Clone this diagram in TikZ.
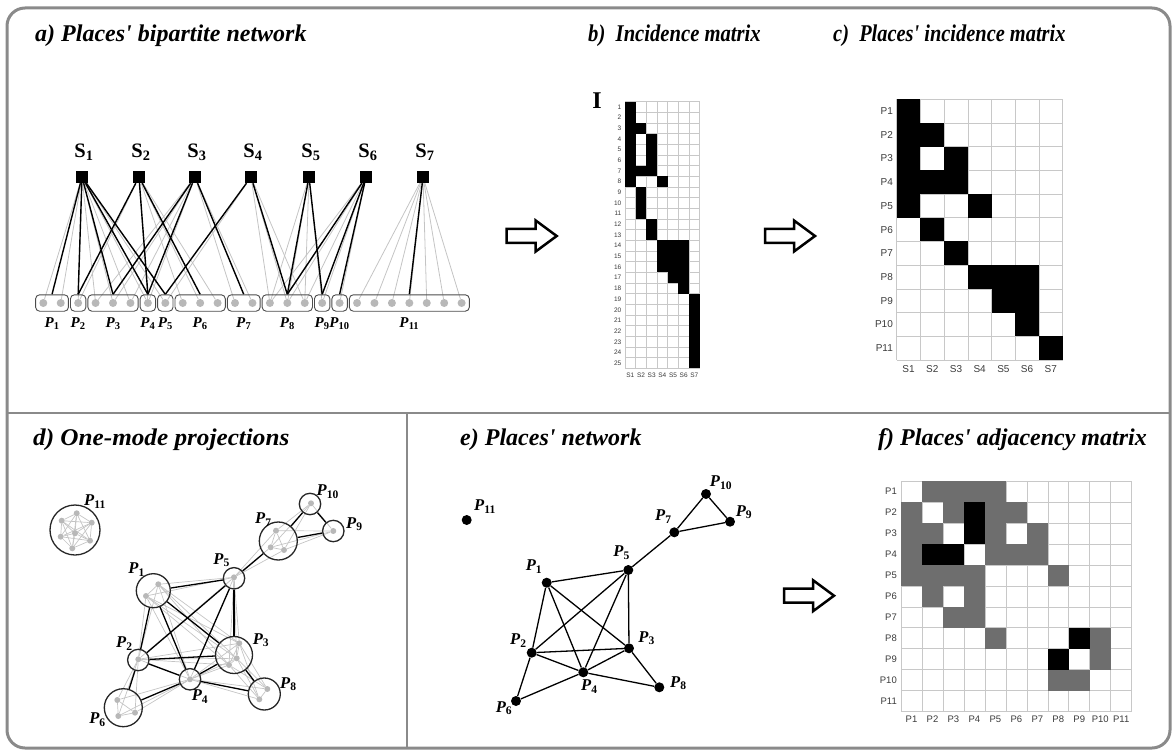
\documentclass[tikz,border=0pt]{standalone}
\usepackage{fontspec}
\setmainfont{Liberation Serif}
\setsansfont{Liberation Sans}
\usetikzlibrary{fit}
\pgfdeclarelayer{bg}
\pgfsetlayers{bg,main}
\newcommand{\plab}[1]{\textbf{\textit{P}\textsubscript{#1}}}
\newcommand{\slab}[1]{\textbf{S\textsubscript{#1}}}
\definecolor{framegray}{HTML}{8A8A8A}
\definecolor{gridgray}{HTML}{C8C8C8}
\definecolor{cellgray}{HTML}{6E6E6E}
\definecolor{dotgray}{HTML}{B8B8B8}
\definecolor{edgegray}{HTML}{C4C4C4}
\definecolor{labgray}{HTML}{3A3A3A}
\tikzset{
  barrow/.pic={\draw[line width=2.5,line join=miter,fill=white]
    (0,-7) -- (29,-7) -- (29,-15.5) -- (50,0) -- (29,15.5) -- (29,7) -- (0,7) -- cycle;}
}
\begin{document}
\begin{tikzpicture}[x=1pt,y=-1pt,
  title/.style={anchor=base west,inner sep=0,font=\fontsize{24}{28}\selectfont\bfseries\itshape},
  sq/.style={fill=black,minimum size=12,inner sep=0},
  slabel/.style={font=\fontsize{20.5}{22}\selectfont,inner sep=0},
  pdot/.style={circle,fill=dotgray,minimum size=8,inner sep=0},
  pbox/.style={draw=black!70,line width=0.9,rounded corners=4,inner xsep=3.5,inner ysep=4},
  palab/.style={font=\fontsize{15}{16}\selectfont,inner sep=0,anchor=base},
  gedge/.style={draw=edgegray,line width=0.8},
  bedge/.style={draw=black,line width=1.4},
  gridline/.style={draw=gridgray,line width=0.6},
  blab/.style={font=\sffamily\fontsize{6.5}{7}\selectfont,text=labgray,inner sep=0},
  clab/.style={font=\sffamily\fontsize{10}{11}\selectfont,text=labgray,inner sep=0},
  flab/.style={font=\sffamily\fontsize{9.5}{10}\selectfont,text=labgray,inner sep=0},
  circ/.style={circle,draw=black!85,line width=1.3,inner sep=0},
  idot/.style={circle,fill=dotgray,minimum size=6,inner sep=0},
  igedge/.style={draw=edgegray,line width=0.7},
  nlab/.style={font=\fontsize{16.5}{18}\selectfont,inner sep=0},
  edot/.style={circle,fill=black,minimum size=10,inner sep=0},
  eedge/.style={draw=black,line width=1.3}
]
\useasboundingbox (0,0) rectangle (1174,751);

% panel frame and dividers
\draw[framegray,line width=3,rounded corners=18] (7,8) rectangle (1170,748);
\draw[framegray,line width=2.5] (7,413) -- (1170,413);
\draw[framegray,line width=2] (407,413) -- (407,748);

% titles
\node[title] (ta) at (35,41.7) {a) Places\textquotesingle{} bipartite network};
\node[title] (tb) at (588,41.7) {\scalebox{0.86}[1]{b)\ \ Incidence matrix}};
\node[title] (tc) at (833,41.7) {\scalebox{0.85}[1]{c)\ \ Places\textquotesingle{} incidence matrix}};
\node[title] (td) at (33,445) {\scalebox{1.05}[1]{d) One-mode projections}};
\node[title] (te) at (460,445) {e) Places\textquotesingle{} network};
\node[title] (tf) at (878,445) {f) Places\textquotesingle{} adjacency matrix};

% ---------- a) bipartite network ----------
\foreach \j/\x in {1/82,2/139,3/195,4/251,5/309,6/366,7/423} {
  \node[sq] (S\j) at (\x,177) {};
  \node[slabel] (SL\j) at (\x+2,152) {\slab{\j}};
}
\foreach \i in {1,...,25}
  \node[pdot] (d\i) at ({43.3+17.43*(\i-1)},303) {};
\foreach \k/\a/\b in {1/1/2,2/3/3,3/4/6,4/7/7,5/8/8,6/9/11,7/12/13,8/14/16,9/17/17,10/18/18,11/19/25} {
  \node[pbox,fit=(d\a)(d\b)] (P\k) {};
  \node[palab] (PL\k) at ([yshift=-15.5pt]P\k.south) {\plab{\k}};
}
\begin{pgfonlayer}{bg}
  \foreach \i/\j in {1/1,2/1,3/1,3/2,4/1,4/3,5/1,5/3,6/1,6/3,7/1,7/2,7/3,8/1,8/4,
      9/2,10/2,11/2,12/3,13/3,14/4,14/5,14/6,15/4,15/5,15/6,16/4,16/5,16/6,17/5,17/6,
      18/6,19/7,20/7,21/7,22/7,23/7,24/7,25/7}
    \draw[gedge] (S\j) -- (d\i);
  \foreach \k/\j in {1/1,2/1,2/2,3/1,3/3,4/1,4/2,4/3,5/1,5/4,6/2,7/3,8/4,8/5,8/6,9/5,9/6,10/6,11/7}
    \draw[bedge] (S\j) -- (P\k.north);
\end{pgfonlayer}

% ---------- b) incidence matrix ----------
\node[font=\fontsize{24}{24}\selectfont\bfseries,inner sep=0] (Ilab) at (597,101) {I};
\foreach \c in {0,...,7}
  \draw[gridline] (625+\c*10.67,101.7) -- (625+\c*10.67,368.45);
\foreach \r in {0,...,25}
  \draw[gridline] (625,101.7+\r*10.67) -- (699.7,101.7+\r*10.67);
\foreach \r/\c in {1/1,2/1,3/1,3/2,4/1,4/3,5/1,5/3,6/1,6/3,7/1,7/2,7/3,8/1,8/4,
    9/2,10/2,11/2,12/3,13/3,14/4,14/5,14/6,15/4,15/5,15/6,16/4,16/5,16/6,17/5,17/6,
    18/6,19/7,20/7,21/7,22/7,23/7,24/7,25/7}
  \fill (625+\c*10.67-10.67,101.7+\r*10.67-10.67) rectangle ++(10.67,10.67);
\foreach \r in {1,...,25}
  \node[blab,anchor=east] (br\r) at (621.5,101.7+\r*10.67-5.33) {\r};
\foreach \c in {1,...,7}
  \node[blab] (bc\c) at (625+\c*10.67-5.33,375) {S\c};

% ---------- c) places' incidence matrix ----------
\foreach \c in {0,...,7}
  \draw[gridline] (896.7+\c*23.7,99.3) -- (896.7+\c*23.7,360);
\foreach \r in {0,...,11}
  \draw[gridline] (896.7,99.3+\r*23.7) -- (1062.6,99.3+\r*23.7);
\foreach \r/\c in {1/1,2/1,2/2,3/1,3/3,4/1,4/2,4/3,5/1,5/4,6/2,7/3,8/4,8/5,8/6,9/5,9/6,10/6,11/7}
  \fill (896.7+\c*23.7-23.7,99.3+\r*23.7-23.7) rectangle ++(23.7,23.7);
\foreach \r in {1,...,11}
  \node[clab,anchor=east] (cr\r) at (893,99.3+\r*23.7-11.85) {P\r};
\foreach \c in {1,...,7}
  \node[clab] (cc\c) at (896.7+\c*23.7-11.85,369) {S\c};

% ---------- f) places' adjacency matrix ----------
\foreach \c in {0,...,11}
  \draw[gridline] (901+\c*20.97,481) -- (901+\c*20.97,711.7);
\foreach \r in {0,...,11}
  \draw[gridline] (901,481+\r*20.97) -- (1131.7,481+\r*20.97);
\foreach \r/\c in {1/2,1/3,1/4,1/5,2/1,2/3,2/5,2/6,3/1,3/2,3/5,3/7,4/1,4/5,4/6,4/7,
    5/1,5/2,5/3,5/4,5/8,6/2,6/4,7/3,7/4,8/5,8/10,9/10,10/8,10/9}
  \fill[cellgray] (901+\c*20.97-20.97,481+\r*20.97-20.97) rectangle ++(20.97,20.97);
\foreach \r/\c in {2/4,3/4,4/2,4/3,8/9,9/8}
  \fill (901+\c*20.97-20.97,481+\r*20.97-20.97) rectangle ++(20.97,20.97);
\foreach \r in {1,...,11}
  \node[flab,anchor=east] (fr\r) at (897,481+\r*20.97-10.48) {P\r};
\foreach \c in {1,...,11}
  \node[flab] (fc\c) at (901+\c*20.97-10.48,719.5) {P\c};

% ---------- block arrows ----------
\pic at (506.7,236) {barrow};
\pic at (765,236) {barrow};
\pic at (784,595.7) {barrow};

% ---------- d) one-mode projections ----------
\foreach \n/\x/\y/\r in {11/75/530/25,10/310/504/10.7,9/333.3/531/10.7,7/278.3/541/19,
    5/234/578.3/10.7,1/153.3/590.7/17,2/138.3/660/10.7,3/234/655/18.5,4/190/679.3/10.7,
    8/264.3/694/16,6/123.3/707.7/19}
  \node[circ,minimum size=2*\r] (Q\n) at (\x,\y) {};
\foreach \g/\k/\x/\y in {11/1/76.7/513.3,11/2/61.7/520.7,11/3/91.7/522.7,11/4/75/533.3,
    11/5/60.7/536.7,11/6/90/540.7,11/7/72.3/548.3,10/1/311/503.3,9/1/333.3/531,
    7/1/276/530.7,7/2/270.7/547.3,7/3/284/550,5/1/234/577.3,1/1/158.3/584.3,1/2/146/596,
    2/1/138.3/659.3,3/1/239.3/643.3,3/2/236.7/658.3,3/3/229/665,4/1/190/679.3,
    8/1/267.3/689,8/2/259.3/699.3,6/1/117.3/700,6/2/118.3/716,6/3/135/712.7}
  \node[idot] (q\g x\k) at (\x,\y) {};
\begin{pgfonlayer}{bg}
  % links among the members of one place
  \foreach \g/\n in {11/7,7/3,1/2,3/3,8/2,6/3}
    \foreach \u in {1,...,\n}
      \foreach \v in {1,...,\n}
        {\ifnum\u<\v \draw[igedge] (q\g x\u) -- (q\g x\v);\fi}
  % links among members of connected places
  \foreach \a/\na/\b/\nb in {1/2/5/1,1/2/2/1,1/2/4/1,1/2/3/3,2/1/5/1,4/1/5/1,3/3/5/1,
      2/1/3/3,2/1/4/1,3/3/4/1,2/1/6/3,4/1/6/3,4/1/8/2,3/3/8/2,5/1/7/3,7/3/10/1,7/3/9/1,9/1/10/1}
    \foreach \u in {1,...,\na}
      \foreach \v in {1,...,\nb}
        \draw[igedge] (q\a x\u) -- (q\b x\v);
  \foreach \a/\b in {1/5,1/2,1/4,1/3,2/5,4/5,3/5,2/3,2/4,3/4,2/6,4/6,4/8,3/8,5/7,7/10,7/9,9/10}
    \draw[eedge] (Q\a) -- (Q\b);
\end{pgfonlayer}
\foreach \n/\x/\y in {11/95/501.7,10/327.7/491.7,9/354.3/524,7/263.3/519.3,5/221.7/560,
    1/136.7/569.3,2/124.3/643.3,3/261/640,4/200/696.7,8/288.3/684,6/97.5/719.5}
  \node[nlab] (LQ\n) at (\x,\y) {\plab{\n}};

% ---------- e) places' network ----------
\foreach \n/\x/\y in {11/466.7/520,10/706/494,9/730/521.7,7/674.3/532.3,5/628.3/570,
    1/546.7/582.7,2/531.7/652.7,3/629/648.3,4/583.3/672.3,8/659.3/687.3,6/516/701}
  \node[edot] (E\n) at (\x,\y) {};
\begin{pgfonlayer}{bg}
  \foreach \a/\b in {1/5,1/2,1/4,1/3,2/5,4/5,3/5,2/3,2/4,3/4,2/6,4/6,4/8,3/8,5/7,7/10,7/9,9/10}
    \draw[eedge] (E\a) -- (E\b);
\end{pgfonlayer}
\foreach \n/\x/\y in {11/485/506.7,10/721/482.7,9/744/512,7/663.3/516.7,5/621.7/552.7,
    1/534/566.7,2/518.3/640.7,3/646.7/638.3,4/589.3/686.7,8/678.3/683.3,6/504/708.3}
  \node[nlab] (LE\n) at (\x,\y) {\plab{\n}};
\end{tikzpicture}
\end{document}
